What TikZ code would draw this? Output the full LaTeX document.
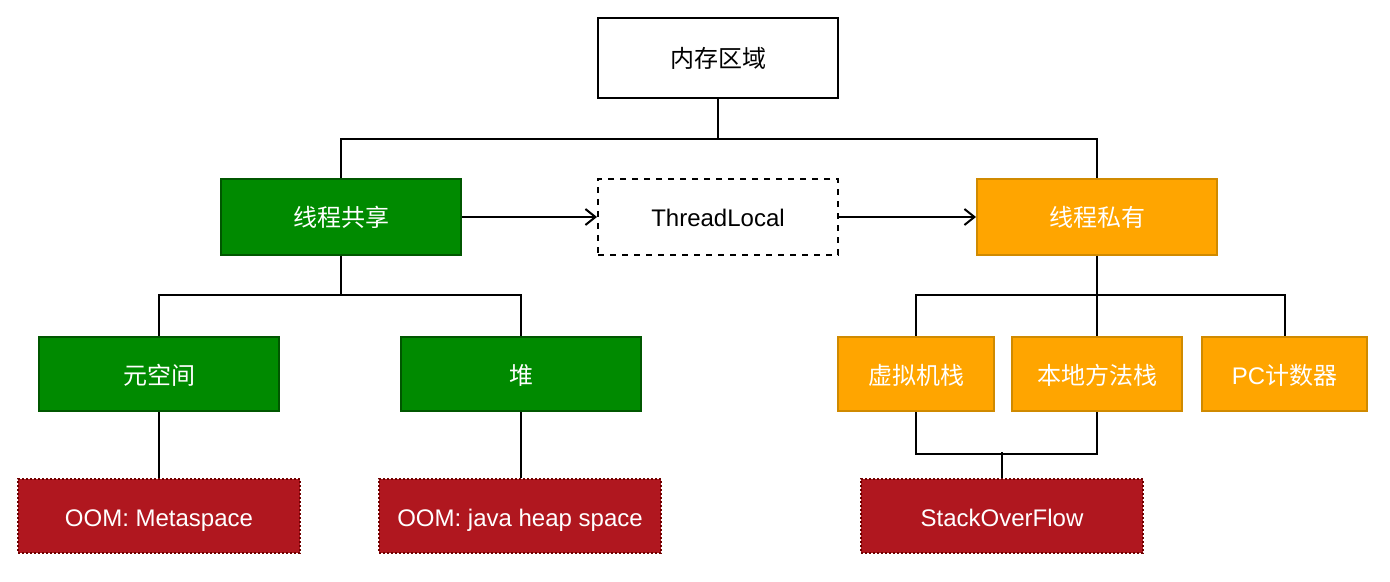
\documentclass[tikz,border=0pt]{standalone}
\usepackage{fontspec}
\setmainfont{Liberation Sans}
\newfontfamily\cjk{Noto Sans CJK SC}
\usetikzlibrary{arrows.meta}

\definecolor{sharedgreen}{HTML}{008A00}
\definecolor{sharedborder}{HTML}{005700}
\definecolor{privorange}{HTML}{FFA500}
\definecolor{privborder}{HTML}{D08A00}
\definecolor{errred}{HTML}{B0171F}
\definecolor{errborder}{HTML}{6F0000}

\begin{document}
\begin{tikzpicture}[x=0.5pt, y=-0.5pt, >={Straight Barb[length=5pt,width=8pt]}, font=\fontsize{12}{14}\selectfont]

\tikzset{
  box/.style={draw, line width=1pt, align=center, minimum width=120pt, minimum height=38pt, inner sep=2pt, text height=10.5pt, text depth=0.5pt},
  shared/.style={box, fill=sharedgreen, draw=sharedborder, text=white},
  private/.style={box, fill=privorange, draw=privborder, text=white},
  error/.style={box, fill=errred, draw=errborder, densely dotted, text=white, minimum width=141pt, minimum height=37pt},
  line/.style={line width=1pt},
  arr/.style={->, line width=1pt}
}

\useasboundingbox (0,0) rectangle (1390,582);

% --- Nós ---

% Raiz
\node[box, minimum height=40pt] (mem) at (718,58) {\cjk 内存区域};

% Nível 1
\node[shared] (shared) at (341,217) {\cjk 线程共享};
\node[box, dashed] (tl) at (718,217) {ThreadLocal};
\node[private] (priv) at (1097,217) {\cjk 线程私有};

% Nível 2: lado compartilhado
\node[shared, minimum height=37pt] (meta) at (159,374) {\cjk 元空间};
\node[shared, minimum height=37pt] (heap) at (521,374) {\cjk 堆};

% Nível 2: lado privado
\node[private, minimum width=78pt, minimum height=37pt] (vms) at (916,374) {\cjk 虚拟机栈};
\node[private, minimum width=85pt, minimum height=37pt] (nms) at (1097,374) {\cjk 本地方法栈};
\node[private, minimum width=82.5pt, minimum height=37pt] (pc) at (1284.5,374) {PC{\cjk 计数器}};

% Nível 3: erros
\node[error] (oommeta) at (159,516) {OOM: Metaspace};
\node[error] (oomheap) at (520,516) {OOM: java heap space};
\node[error] (sof) at (1002,516) {StackOverFlow};

% --- Conexões ---
\draw[line] (mem.south) -- ++(0,40) -| (shared.north);
\draw[line] (mem.south) -- ++(0,40) -| (priv.north);

\draw[line] (shared.south) -- ++(0,39) -| (meta.north);
\draw[line] (shared.south) -- ++(0,39) -| (heap.north);

\draw[line] (priv.south) -- ++(0,39) -| (vms.north);
\draw[line] (priv.south) -- (nms.north);
\draw[line] (priv.south) -- ++(0,39) -| (pc.north);

\draw[line] (meta) -- (oommeta);
\draw[line] (heap.south) -- (heap.south |- oomheap.north);

\draw[line] (vms.south) -- ++(0,42) -| (nms.south);
\draw[line] (sof.north) -- ++(0,-26);

% --- Setas ---
\draw[arr] (shared) -- (tl);
\draw[arr] (tl) -- (priv);

\end{tikzpicture}
\end{document}
